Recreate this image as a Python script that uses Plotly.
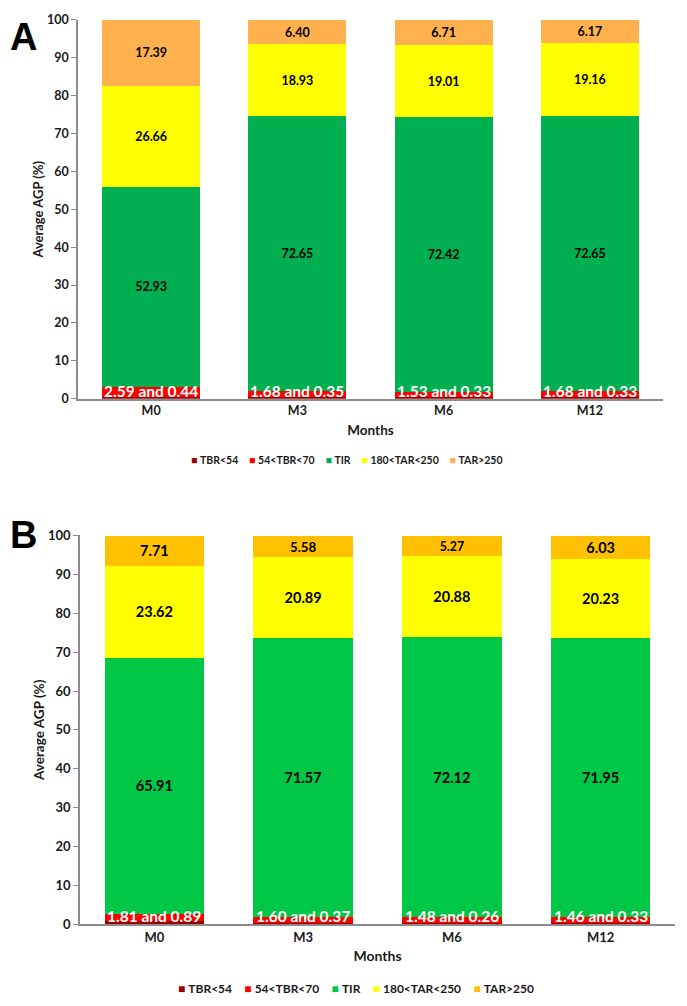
import plotly.graph_objects as go

months = ["M0", "M3", "M6", "M12"]
series_names = ["TBR&lt;54", "54&lt;TBR&lt;70", "TIR", "180&lt;TAR&lt;250", "TAR&gt;250"]

# Panel A
a_tbr54 = [0.44, 0.35, 0.33, 0.33]
a_tbr70 = [2.59, 1.68, 1.53, 1.68]
a_tir = [52.93, 72.65, 72.42, 72.65]
a_tar250 = [26.66, 18.93, 19.01, 19.16]
a_tar = [17.39, 6.40, 6.71, 6.17]

# Panel B
b_tbr54 = [0.89, 0.37, 0.26, 0.33]
b_tbr70 = [1.81, 1.60, 1.48, 1.46]
b_tir = [65.91, 71.57, 72.12, 71.95]
b_tar250 = [23.62, 20.89, 20.88, 20.23]
b_tar = [7.71, 5.58, 5.27, 6.03]

colors_a = ["#990000", "#FF0000", "#00B050", "#FFFF00", "#FFB14E"]
colors_b = ["#990000", "#FF0000", "#00C846", "#FFFF00", "#FFC000"]

FONT = "Lato"
TXT = "#1a1a1a"
W, H = 687, 1006

fig = go.Figure()

def add_panel(vals, colors, xa, ya, fsize):
    for i, (name, v, c) in enumerate(zip(series_names, vals, colors)):
        show_text = i >= 2
        fig.add_trace(go.Bar(
            x=months, y=v, name=name, marker=dict(color=c, line=dict(width=0)),
            xaxis=xa, yaxis=ya, showlegend=False,
            text=[f"<b>{x:.2f}</b>" for x in v] if show_text else None,
            textposition="inside" if show_text else "none",
            insidetextanchor="middle",
            textangle=0,
            textfont=dict(family=FONT, size=fsize, color="black"),
            cliponaxis=False,
        ))

add_panel([a_tbr54, a_tbr70, a_tir, a_tar250, a_tar], colors_a, "x", "y", 12.5)
add_panel([b_tbr54, b_tbr70, b_tir, b_tar250, b_tar], colors_b, "x2", "y2", 14.5)

annotations = []
for xr, yr, t70s, t54s in (("x", "y", a_tbr70, a_tbr54), ("x2", "y2", b_tbr70, b_tbr54)):
    for m, t70, t54 in zip(months, t70s, t54s):
        annotations.append(dict(x=m, y=0, xref=xr, yref=yr, yanchor="middle", yshift=8,
                                text=f"<b>{t70:.2f} and {t54:.2f}</b>", showarrow=False,
                                font=dict(family=FONT, size=15.5, color="white")))

annotations.append(dict(x=23/W, y=1-29/H, xref="paper", yref="paper", xanchor="center", yanchor="middle",
                        text="<b>A</b>", showarrow=False,
                        font=dict(family="Liberation Sans", size=38, color="black")))
annotations.append(dict(x=23/W, y=1-536/H, xref="paper", yref="paper", xanchor="center", yanchor="middle",
                        text="<b>B</b>", showarrow=False,
                        font=dict(family="Liberation Sans", size=38, color="black")))

# legends drawn as text rows
def legend_text(colors):
    return "&nbsp;&nbsp;&nbsp;&nbsp;".join(
        f'<span style="color:{c}">■</span> <b>{n}</b>' for n, c in zip(series_names, colors))

annotations.append(dict(x=347/W, y=1-459/H, xref="paper", yref="paper", xanchor="center", yanchor="middle",
                        text=legend_text(colors_a), showarrow=False,
                        font=dict(family=FONT, size=10.5, color=TXT)))
annotations.append(dict(x=356/W, y=1-996/H, xref="paper", yref="paper", xanchor="center", yanchor="middle",
                        text=legend_text(colors_b), showarrow=False,
                        font=dict(family=FONT, size=12, color=TXT)))

axis_common = dict(showline=True, linecolor="#8C8C8C", linewidth=1.5, showgrid=False, zeroline=False)

def tf(size):
    return dict(family=FONT, size=size, color=TXT, weight="bold")

fig.update_layout(
    width=W, height=H,
    margin=dict(l=0, r=0, t=0, b=0),
    paper_bgcolor="white", plot_bgcolor="white",
    barmode="stack", bargap=0.33,
    font=dict(family=FONT),
    showlegend=False,
    annotations=annotations,
    xaxis=dict(domain=[78/W, 663/W], anchor="y", ticks="", tickfont=tf(12.5),
               title=dict(text="<b>Months</b>", font=dict(family=FONT, size=13.5, color=TXT), standoff=8),
               **axis_common),
    yaxis=dict(domain=[1-397/H, 1-12/H], anchor="x", range=[0, 100.05], tickvals=list(range(0, 101, 10)),
               ticks="outside", ticklen=5, tickcolor="#8C8C8C", tickfont=tf(12.5),
               title=dict(text="<b>Average AGP (%)</b>", font=dict(family=FONT, size=13, color=TXT), standoff=0),
               **axis_common),
    xaxis2=dict(domain=[80/W, 675/W], anchor="y2", ticks="", tickfont=tf(13),
                title=dict(text="<b>Months</b>", font=dict(family=FONT, size=14, color=TXT), standoff=8),
                **axis_common),
    yaxis2=dict(domain=[1-931/H, 1-536/H], anchor="x2", range=[0, 100.05], tickvals=list(range(0, 101, 10)),
                ticks="outside", ticklen=5, tickcolor="#8C8C8C", tickfont=tf(13),
                title=dict(text="<b>Average AGP (%)</b>", font=dict(family=FONT, size=13.5, color=TXT), standoff=0),
                **axis_common),
)

fig.write_html("out.html")
